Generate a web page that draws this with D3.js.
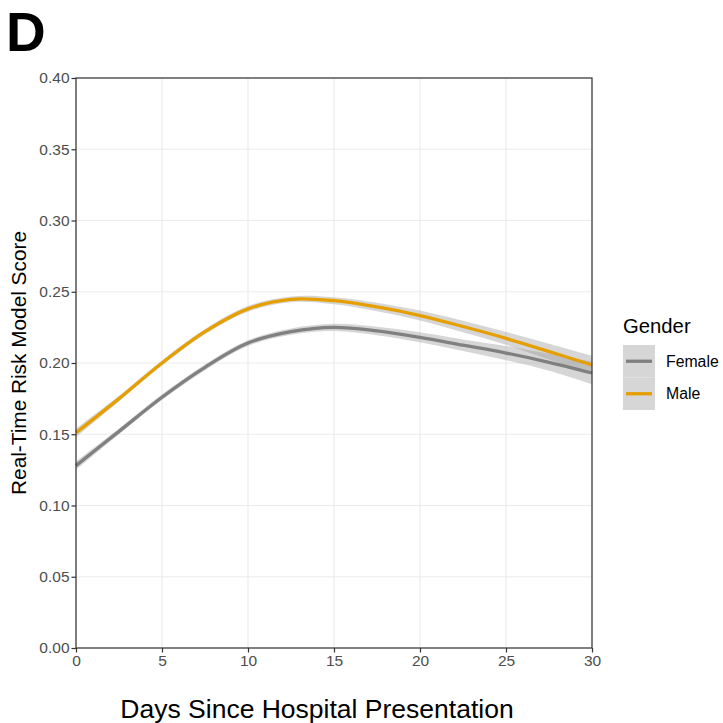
<!DOCTYPE html>
<html>
<head>
<meta charset="utf-8">
<script src="https://cdn.jsdelivr.net/npm/d3@7"></script>
<style>
  body { margin: 0; background: #fff; }
  svg text { font-family: "Liberation Sans", Arial, sans-serif; }
</style>
</head>
<body>
<div id="chart"></div>
<script>
// smoothed curve values
const days = [0, 2.5, 5, 7.5, 10, 12.5, 15, 17.5, 20, 22.5, 25, 27.5, 30];
const maleScore = [0.151, 0.175, 0.200, 0.222, 0.238, 0.2447, 0.2437, 0.2393, 0.2333, 0.2256, 0.2173, 0.208, 0.1986];
const femaleScore = [0.128, 0.152, 0.176, 0.197, 0.214, 0.222, 0.225, 0.2225, 0.218, 0.2125, 0.207, 0.2005, 0.193];
// half width of the confidence band
const maleBand = [0.003, 0.002, 0.0018, 0.0018, 0.002, 0.002, 0.0025, 0.003, 0.0035, 0.004, 0.0045, 0.0055, 0.0065];
const femaleBand = [0.003, 0.002, 0.002, 0.002, 0.002, 0.0022, 0.0025, 0.003, 0.0035, 0.004, 0.005, 0.006, 0.008];

const xTicks = [0, 5, 10, 15, 20, 25, 30];
const yTicks = [0, 0.05, 0.10, 0.15, 0.20, 0.25, 0.30, 0.35, 0.40];
const groups = ["Female", "Male"];
const colors = { Female: "#808080", Male: "#E69F00" };

const W = 723, H = 723;
const margin = { top: 78, right: 131, bottom: 75, left: 76 };
const width = W - margin.left - margin.right;
const height = H - margin.top - margin.bottom;

const svg = d3.select("#chart").append("svg")
    .attr("width", W)
    .attr("height", H);

// panel letter
svg.append("text")
    .attr("x", 6)
    .attr("y", 51)
    .style("font-size", "55px")
    .style("font-weight", "bold")
    .text("D");

const g = svg.append("g")
    .attr("transform", `translate(${margin.left},${margin.top})`);

const x = d3.scaleLinear().domain([0, 30]).range([0, width]);
const y = d3.scaleLinear().domain([0, 0.40]).range([height, 0]);

// grid
g.append("g").selectAll("line").data(xTicks).enter().append("line")
    .attr("x1", d => x(d)).attr("x2", d => x(d))
    .attr("y1", 0).attr("y2", height)
    .style("stroke", "#ebebeb").style("stroke-width", 1.2);
g.append("g").selectAll("line").data(yTicks).enter().append("line")
    .attr("y1", d => y(d)).attr("y2", d => y(d))
    .attr("x1", 0).attr("x2", width)
    .style("stroke", "#ebebeb").style("stroke-width", 1.2);

const series = [
    { name: "Female", vals: femaleScore, band: femaleBand },
    { name: "Male", vals: maleScore, band: maleBand }
];

const area = d3.area()
    .x(d => x(d.day))
    .y0(d => y(d.v - d.b))
    .y1(d => y(d.v + d.b))
    .curve(d3.curveCatmullRom);

const line = d3.line()
    .x(d => x(d.day))
    .y(d => y(d.v))
    .curve(d3.curveCatmullRom);

const pts = s => days.map((day, i) => ({ day: day, v: s.vals[i], b: s.band[i] }));

// bands first, then lines
g.selectAll("path.band").data(series).enter().append("path")
    .attr("class", "band")
    .attr("d", s => area(pts(s)))
    .style("fill", "#999999")
    .style("opacity", 0.4);

g.selectAll("path.trend").data(series).enter().append("path")
    .attr("class", "trend")
    .attr("d", s => line(pts(s)))
    .style("fill", "none")
    .style("stroke", s => colors[s.name])
    .style("stroke-width", 3.3);

// axes
const xAxis = g.append("g")
    .attr("transform", `translate(0,${height})`)
    .call(d3.axisBottom(x).tickValues(xTicks).tickFormat(d3.format("d")).tickSizeOuter(0).tickSize(4.5).tickPadding(2));
const yAxis = g.append("g")
    .call(d3.axisLeft(y).tickValues(yTicks).tickFormat(d3.format(".2f")).tickSizeOuter(0).tickSize(4.5).tickPadding(2));

[xAxis, yAxis].forEach(ax => {
    ax.select(".domain").remove();
    ax.selectAll(".tick line").style("stroke", "#333").style("stroke-width", 1.2);
    ax.selectAll(".tick text")
        .style("fill", "#4d4d4d")
        .style("font-size", "15.5px")
        .style("font-family", "Liberation Sans, Arial, sans-serif");
});

// panel border
g.append("rect")
    .attr("width", width)
    .attr("height", height)
    .style("fill", "none")
    .style("stroke", "#333")
    .style("stroke-width", 1.2);

// axis titles
svg.append("text")
    .attr("x", 317)
    .attr("y", 718)
    .attr("text-anchor", "middle")
    .style("font-size", "26.5px")
    .text("Days Since Hospital Presentation");

svg.append("text")
    .attr("transform", `translate(26,${margin.top + height / 2}) rotate(-90)`)
    .attr("text-anchor", "middle")
    .style("font-size", "20.8px")
    .text("Real-Time Risk Model Score");

// legend
const legend = svg.append("g").attr("transform", "translate(623,333)");
legend.append("text")
    .attr("x", 0).attr("y", 0)
    .style("font-size", "20.3px")
    .text("Gender");

const keys = legend.selectAll("g.key").data(groups).enter().append("g")
    .attr("class", "key")
    .attr("transform", (d, i) => `translate(0,${12 + i * 32.5})`);
keys.append("rect")
    .attr("width", 32).attr("height", 32.5)
    .style("fill", "#d6d6d6");
keys.append("line")
    .attr("x1", 3).attr("x2", 29)
    .attr("y1", 16.25).attr("y2", 16.25)
    .style("stroke", d => colors[d])
    .style("stroke-width", 3.3);
keys.append("text")
    .attr("x", 43).attr("y", 16.25)
    .attr("dy", "0.35em")
    .style("font-size", "15.8px")
    .text(d => d);
</script>
</body>
</html>
